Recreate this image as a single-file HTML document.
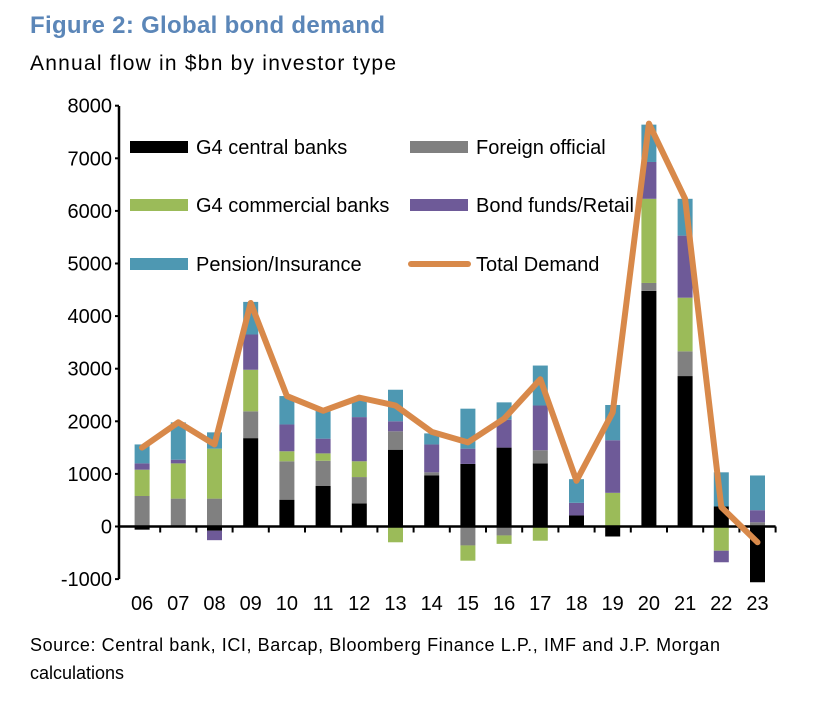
<!DOCTYPE html>
<html><head><meta charset="utf-8"><style>
body{margin:0;background:#fff;width:820px;height:708px;overflow:hidden;font-family:"Liberation Sans",Arial,sans-serif}
svg text{font-family:"Liberation Sans",Arial,sans-serif}
</style></head><body>
<svg id="chart" width="820" height="708">
<text x="30" y="33" font-size="24" font-weight="bold" fill="#5b86b8" textLength="355">Figure 2: Global bond demand</text>
<text x="30" y="70" font-size="21" fill="#000" textLength="366">Annual flow in $bn by investor type</text>
<text x="30" y="651" font-size="18" fill="#000" textLength="690">Source: Central bank, ICI, Barcap, Bloomberg Finance L.P., IMF and J.P. Morgan</text>
<text x="30" y="679" font-size="18" fill="#000">calculations</text>
<g id="plot"></g>
</svg>
<script>
const categories=["06","07","08","09","10","11","12","13","14","15","16","17","18","19","20","21","22","23"];
const g4Central=[-60,0,-80,1680,510,770,440,1460,970,1190,1500,1200,210,-190,4480,2860,380,-1060];
const foreignOfficial=[580,530,530,510,730,480,500,350,60,-360,-170,250,0,0,150,470,0,80];
const g4Commercial=[500,670,950,790,190,140,300,-300,-20,-290,-160,-270,0,640,1600,1020,-460,0];
const bondFunds=[120,70,-180,670,510,280,840,190,530,290,530,850,240,1000,700,1180,-220,230];
const pension=[360,710,310,620,540,530,320,600,210,760,330,760,450,670,710,700,650,660];
const totalDemand=[1500,1980,1560,4250,2480,2200,2450,2300,1800,1600,2050,2800,870,2170,7660,6230,370,-300];
const yTicks=[-1000,0,1000,2000,3000,4000,5000,6000,7000,8000];

const NS="http://www.w3.org/2000/svg";
const plot=document.getElementById('plot');
const x0=124,step=36.2,bw=15;
const y=v=>526.5-v*0.0526;
const xc=i=>x0+step*(i+0.5);
function mk(t,a){const e=document.createElementNS(NS,t);for(const k in a)e.setAttribute(k,a[k]);plot.appendChild(e);return e;}
const series=[[g4Central,"#000000","g4-central-banks"],[foreignOfficial,"#808080","foreign-official"],[g4Commercial,"#9bbb59","g4-commercial-banks"],[bondFunds,"#6e5a98","bond-funds-retail"],[pension,"#4e98b2","pension-insurance"]];
categories.forEach((c,i)=>{
  let pos=0,neg=0;
  series.forEach(s=>{
    const v=s[0][i];if(!v)return;
    let a,b;
    if(v>0){a=pos;b=pos+v;pos=b;}else{a=neg;b=neg+v;neg=b;}
    const r=mk('rect',{x:xc(i)-bw/2,y:Math.min(y(a),y(b)),width:bw,height:Math.abs(y(a)-y(b)),fill:s[1]});
    
    
  });
});
let ax=mk('line',{x1:119,y1:106,x2:119,y2:579,stroke:"#000","stroke-width":2.5});

yTicks.forEach(t=>{
  const tl=mk('text',{x:112,y:y(t)+7,"font-size":20,"text-anchor":"end"});tl.textContent=t;
  
  mk('line',{x1:115,y1:y(t),x2:119,y2:y(t),stroke:"#000","stroke-width":2});
});
let xa=mk('line',{x1:119,y1:y(0),x2:x0+step*18,y2:y(0),stroke:"#000","stroke-width":2.5});

categories.forEach((c,i)=>{
  mk('line',{x1:x0+step*(i+1),y1:y(0),x2:x0+step*(i+1),y2:y(0)+6,stroke:"#000","stroke-width":2});
  const tl=mk('text',{x:xc(i),y:610,"font-size":20,"text-anchor":"middle"});tl.textContent=c;
  
});
const line=mk('polyline',{points:totalDemand.map((v,i)=>xc(i)+","+y(v)).join(" "),fill:"none",stroke:"#d8894a","stroke-width":6,"stroke-linejoin":"round","stroke-linecap":"round"});

const leg=[[130,147,"#000000","G4 central banks"],[410,147,"#808080","Foreign official"],[130,205,"#9bbb59","G4 commercial banks"],[410,205,"#6e5a98","Bond funds/Retail"],[130,264,"#4e98b2","Pension/Insurance"]];
leg.forEach(l=>{
  const r=mk('rect',{x:l[0],y:l[1]-6,width:58,height:12,fill:l[2]});
  
  const t=mk('text',{x:l[0]+66,y:l[1]+7,"font-size":20});t.textContent=l[3];
  
});
const ll=mk('line',{x1:411,y1:264,x2:468,y2:264,stroke:"#d8894a","stroke-width":6,"stroke-linecap":"round"});

const lt=mk('text',{x:476,y:271,"font-size":20});lt.textContent="Total Demand";

</script>
</body></html>
